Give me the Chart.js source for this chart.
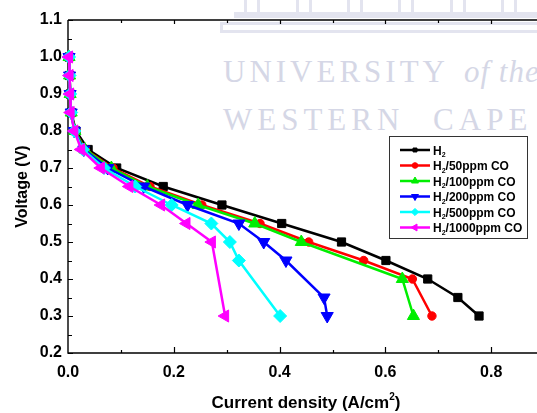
<!DOCTYPE html>
<html>
<head>
<meta charset="utf-8">
<script src="https://cdn.jsdelivr.net/npm/chart.js@4.4.1/dist/chart.umd.min.js"></script>
<style>
  body { margin: 0; width: 537px; height: 413px; overflow: hidden; background: #fff; position: relative; }
  #chart { position: absolute; left: 0; top: 0; z-index: 1; }
  .wm { position: absolute; z-index: 0; color: #d5d7e6; font-family: "Liberation Serif", "DejaVu Serif", serif; font-size: 31px; line-height: 31px; white-space: nowrap; letter-spacing: 4px; }
  .col { position: absolute; top: 0; height: 12px; width: 10px; border-left: 3px solid #e3e4ef; border-right: 3px solid #e3e4ef; z-index: 0; }
  .band { position: absolute; z-index: 0; border: 3px solid #e3e4ef; }
</style>
</head>
<body>
<!-- vattenstämpel bakom diagrammet -->
<div class="col" style="left:244px"></div>
<div class="col" style="left:296px"></div>
<div class="col" style="left:347px"></div>
<div class="col" style="left:398px"></div>
<div class="col" style="left:450px"></div>
<div class="col" style="left:501px"></div>
<div class="band" style="left:234px; top:12px; width:320px; height:0px;"></div>
<div class="band" style="left:220px; top:22px; width:330px; height:5px;"></div>
<div class="wm" style="left:223px; top:56px;">UNIVERSITY</div>
<div class="wm" style="left:464px; top:56px; font-style:italic; letter-spacing:1px;">of the</div>
<div class="wm" style="left:223px; top:104px; letter-spacing:5px; word-spacing:16px;">WESTERN CAPE</div>

<canvas id="chart" width="620" height="413"></canvas>

<script>
// Polarisationskurver: spänning (V) mot strömtäthet (A/cm2)
const seriesLabels = ['H₂', 'H₂/50ppm CO', 'H₂/100ppm CO', 'H₂/200ppm CO', 'H₂/500ppm CO', 'H₂/1000ppm CO'];

const voltH2 = [1.0, 0.95, 0.9, 0.85, 0.8, 0.75, 0.7, 0.65, 0.6, 0.55, 0.5, 0.45, 0.4, 0.35, 0.3];
const currH2 = [0.002, 0.003, 0.004, 0.006, 0.015, 0.038, 0.092, 0.180, 0.291, 0.404, 0.517, 0.601, 0.680, 0.737, 0.777];

const volt50 = [1.0, 0.95, 0.9, 0.85, 0.8, 0.75, 0.7, 0.65, 0.6, 0.55, 0.5, 0.45, 0.4, 0.3];
const curr50 = [0.002, 0.003, 0.004, 0.006, 0.013, 0.033, 0.085, 0.155, 0.253, 0.363, 0.455, 0.559, 0.651, 0.688];

const volt100 = [1.0, 0.95, 0.9, 0.85, 0.8, 0.75, 0.7, 0.65, 0.6, 0.55, 0.5, 0.4, 0.3];
const curr100 = [0.002, 0.003, 0.004, 0.006, 0.013, 0.032, 0.082, 0.150, 0.246, 0.353, 0.441, 0.632, 0.653];

const volt200 = [1.0, 0.95, 0.9, 0.85, 0.8, 0.75, 0.7, 0.65, 0.6, 0.55, 0.5, 0.45, 0.35, 0.3];
const curr200 = [0.002, 0.003, 0.004, 0.006, 0.012, 0.030, 0.075, 0.143, 0.226, 0.323, 0.370, 0.412, 0.484, 0.490];

const volt500 = [1.0, 0.95, 0.9, 0.85, 0.8, 0.75, 0.7, 0.65, 0.6, 0.55, 0.5, 0.45, 0.3];
const curr500 = [0.002, 0.003, 0.004, 0.006, 0.012, 0.028, 0.068, 0.127, 0.196, 0.271, 0.306, 0.323, 0.401];

const volt1000 = [1.0, 0.95, 0.9, 0.85, 0.8, 0.75, 0.7, 0.65, 0.6, 0.55, 0.5, 0.3];
const curr1000 = [0.002, 0.003, 0.004, 0.005, 0.012, 0.025, 0.062, 0.116, 0.176, 0.224, 0.272, 0.297];

const xTickLabels = ['0.0', '0.2', '0.4', '0.6', '0.8', '1.0'];
const yTickLabels = ['0.2', '0.3', '0.4', '0.5', '0.6', '0.7', '0.8', '0.9', '1.0', '1.1'];

const allCurr = [currH2, curr50, curr100, curr200, curr500, curr1000];
const allVolt = [voltH2, volt50, volt100, volt200, volt500, volt1000];

// Utseende per serie
const colors = ['#000000', '#ff0000', '#00ee00', '#0000ff', '#00ffff', '#ff00ff'];
const styles = ['rect', 'circle', 'triangle', 'triangle', 'rectRot', 'triangle'];
const rotations = [0, 0, 0, 180, 0, -90];
const radii = [5.8, 4.2, 7, 7, 6.5, 7];
const legendRadii = [2.8, 2.8, 4, 4, 3.6, 4];

const fontFam = '"Liberation Sans", Arial, sans-serif';

// Ram och tickmarkeringar (inåtriktade, som i Origin)
const framePlugin = {
    id: 'frame',
    beforeDatasetsDraw(chart) {
        const { ctx, chartArea: a, scales: { x, y } } = chart;
        ctx.save();
        ctx.strokeStyle = '#000';
        ctx.lineWidth = 1.4;
        ctx.beginPath();
        ctx.moveTo(a.left, a.top);
        ctx.lineTo(a.left, a.bottom);
        ctx.lineTo(a.right, a.bottom);
        ctx.moveTo(a.left, a.top);
        ctx.lineTo(a.right, a.top);
        ctx.stroke();
        ctx.lineWidth = 1.2;
        ctx.beginPath();
        for (let k = 4; k <= 22; k++) {
            const py = Math.round(y.getPixelForValue(k * 0.05)) + 0.5;
            const len = k % 2 === 0 ? 5 : 4;
            ctx.moveTo(a.left, py);
            ctx.lineTo(a.left + len, py);
        }
        for (let k = 1; k <= 10; k++) {
            const px = Math.round(x.getPixelForValue(k * 0.1)) + 0.5;
            const len = k % 2 === 0 ? 6 : 3;
            ctx.moveTo(px, a.bottom);
            ctx.lineTo(px, a.bottom - len);
            ctx.moveTo(px, a.top);
            ctx.lineTo(px, a.top + (k % 2 === 0 ? 4 : 3));
        }
        ctx.stroke();
        ctx.restore();
    }
};

// x-axelns titel med upphöjd tvåa
const xTitlePlugin = {
    id: 'xTitle',
    afterDraw(chart) {
        const ctx = chart.ctx;
        const main = 'Current density (A/cm';
        ctx.save();
        ctx.fillStyle = '#000';
        ctx.textBaseline = 'alphabetic';
        ctx.font = `bold 17px ${fontFam}`;
        const w1 = ctx.measureText(main).width;
        const w3 = ctx.measureText(')').width;
        ctx.font = `bold 10px ${fontFam}`;
        const w2 = ctx.measureText('2').width;
        const x0 = 306 - (w1 + w2 + w3) / 2;
        const base = 408;
        ctx.font = `bold 17px ${fontFam}`;
        ctx.fillText(main, x0, base);
        ctx.font = `bold 10px ${fontFam}`;
        ctx.fillText('2', x0 + w1, base - 8);
        ctx.font = `bold 17px ${fontFam}`;
        ctx.fillText(')', x0 + w1 + w2, base);
        ctx.restore();
    }
};

// Legend i en ruta med linje + markör och nedsänkt tvåa
const legendPlugin = {
    id: 'boxLegend',
    afterDraw(chart) {
        const ctx = chart.ctx;
        ctx.save();
        ctx.fillStyle = '#fff';
        ctx.fillRect(389, 136, 138, 102);
        ctx.strokeStyle = '#333';
        ctx.lineWidth = 1;
        ctx.strokeRect(389.5, 136.5, 138, 102);
        chart.data.datasets.forEach((ds, i) => {
            const yy = 150 + i * 15.5;
            ctx.strokeStyle = colors[i];
            ctx.fillStyle = colors[i];
            ctx.lineWidth = 2.5;
            ctx.beginPath();
            ctx.moveTo(400, yy);
            ctx.lineTo(430, yy);
            ctx.stroke();
            ctx.lineWidth = 1;
            Chart.helpers.drawPoint(ctx, { pointStyle: styles[i], rotation: rotations[i], radius: legendRadii[i], borderWidth: 1 }, 415, yy);
            const [head, tail] = ds.label.split('₂');
            ctx.fillStyle = '#000';
            ctx.textBaseline = 'alphabetic';
            ctx.font = `bold 12px ${fontFam}`;
            ctx.fillText(head, 433, yy + 4.5);
            const wH = ctx.measureText(head).width;
            ctx.font = `bold 7px ${fontFam}`;
            ctx.fillText('2', 433 + wH, yy + 7);
            const w2 = ctx.measureText('2').width;
            ctx.font = `bold 12px ${fontFam}`;
            ctx.fillText(tail, 433 + wH + w2, yy + 4.5);
        });
        ctx.restore();
    }
};

const datasets = seriesLabels.map((label, i) => ({
    label: label,
    data: allCurr[i].map((c, j) => ({ x: c, y: allVolt[i][j] })),
    showLine: true,
    borderColor: colors[i],
    backgroundColor: colors[i],
    borderWidth: 2.5,
    pointStyle: styles[i],
    pointRotation: rotations[i],
    pointRadius: radii[i],
    pointBorderWidth: 1,
    pointHoverRadius: radii[i],
    tension: 0,
    clip: false,
    order: 10 - i
}));

const tickFont = { family: fontFam, size: 16, weight: 'bold' };

new Chart(document.getElementById('chart').getContext('2d'), {
    type: 'scatter',
    data: { datasets },
    options: {
        responsive: false,
        animation: false,
        layout: { padding: { top: 20, right: 23, left: 0, bottom: 0 } },
        plugins: { legend: { display: false }, tooltip: { enabled: false } },
        scales: {
            x: {
                type: 'linear',
                min: 0,
                max: 1.0,
                afterFit(s) { s.height = 60; },
                grid: { display: false, drawTicks: false },
                border: { display: false },
                ticks: {
                    stepSize: 0.2,
                    autoSkip: false,
                    padding: 10,
                    color: '#000',
                    font: tickFont,
                    callback: (v) => xTickLabels[Math.round(v / 0.2)]
                }
            },
            y: {
                min: 0.2,
                max: 1.1,
                afterFit(s) { s.width = 68; },
                grid: { display: false, drawTicks: false },
                border: { display: false },
                ticks: {
                    stepSize: 0.1,
                    autoSkip: false,
                    padding: 6,
                    color: '#000',
                    font: tickFont,
                    callback: (v) => yTickLabels[Math.round((v - 0.2) / 0.1)]
                },
                title: {
                    display: true,
                    text: 'Voltage (V)',
                    color: '#000',
                    font: { family: fontFam, size: 16, weight: 'bold' },
                    padding: { top: 13, bottom: 0 }
                }
            }
        }
    },
    plugins: [framePlugin, xTitlePlugin, legendPlugin]
});
</script>
</body>
</html>
